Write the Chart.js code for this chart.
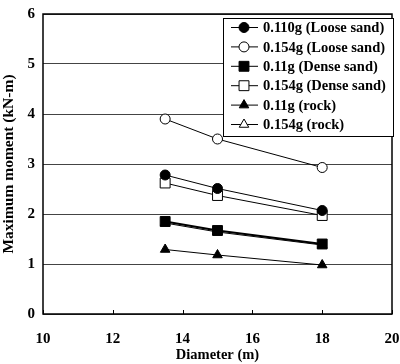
<!DOCTYPE html>
<html>
<head>
<meta charset="utf-8">
<script src="https://cdn.jsdelivr.net/npm/chart.js@4.4.1/dist/chart.umd.min.js"></script>
<style>
  html, body { margin: 0; padding: 0; background: #fff; }
  #wrap { width: 400px; height: 364px; }
</style>
</head>
<body>
<div id="wrap"><canvas id="chart" width="400" height="364"></canvas></div>
<script>
// values
var diameters = [13.5, 15, 18];
var loose110 = [2.78, 2.51, 2.07];
var loose154 = [3.90, 3.50, 2.93];
var dense110 = [1.85, 1.67, 1.40];
var dense154 = [2.62, 2.37, 1.97];
var rock110  = [1.29, 1.18, 0.98];
var rock154  = [1.82, 1.64, 1.38];
var seriesLabels = ['0.110g (Loose sand)', '0.154g (Loose sand)', '0.11g (Dense sand)',
                    '0.154g (Dense sand)', '0.11g (rock)', '0.154g (rock)'];
var xTicks = [10, 12, 14, 16, 18, 20];
var yTicks = [0, 1, 2, 3, 4, 5, 6];

function pts(ys) {
  return ys.map(function (v, i) { return { x: diameters[i], y: v }; });
}

var serif = '"Liberation Serif", "Times New Roman", serif';

function ds(label, ys, style, filled, radius, width) {
  return {
    label: label,
    data: pts(ys),
    showLine: true,
    borderColor: '#000',
    borderWidth: width,
    pointStyle: style,
    pointRadius: radius,
    pointHoverRadius: radius,
    pointBorderWidth: 1,
    pointBorderColor: '#000',
    pointBackgroundColor: filled ? '#000' : '#fff',
    fill: false
  };
}

// box legend drawn inside the plot
var boxLegend = {
  id: 'boxLegend',
  afterDraw: function (chart) {
    var c = chart.ctx;
    var x0 = 223, y0 = 18, w = 170, h = 118;
    c.save();
    c.fillStyle = '#fff';
    c.fillRect(x0, y0, w, h);
    c.strokeStyle = '#000';
    c.lineWidth = 1;
    c.strokeRect(x0 + 0.5, y0 + 0.5, w, h);
    c.font = 'bold 14.5px ' + serif;
    c.textBaseline = 'middle';
    c.textAlign = 'left';
    chart.data.datasets.forEach(function (d, i) {
      var y = 27.5 + i * 19.4;
      c.strokeStyle = '#000';
      c.lineWidth = 1;
      c.beginPath();
      c.moveTo(231, y);
      c.lineTo(258, y);
      c.stroke();
      drawMarker(c, 244, y, d.pointStyle, d.pointRadius, d.pointBackgroundColor);
      c.fillStyle = '#000';
      c.fillText(d.label, 263, y + 1);
    });
    c.restore();
  }
};

function drawMarker(c, x, y, style, r, fillColor) {
  c.beginPath();
  if (style === 'circle') {
    c.arc(x, y, r, 0, Math.PI * 2);
  } else if (style === 'rect') {
    var s = r * Math.SQRT1_2;
    c.rect(x - s, y - s, 2 * s, 2 * s);
  } else {
    var side = r * 3 / Math.sqrt(3), height = side * Math.sqrt(3) / 2;
    c.moveTo(x, y - 2 * height / 3);
    c.lineTo(x + side / 2, y + height / 3);
    c.lineTo(x - side / 2, y + height / 3);
    c.closePath();
  }
  c.fillStyle = fillColor;
  c.fill();
  c.strokeStyle = '#000';
  c.lineWidth = 1;
  c.stroke();
}

// frame and inward x ticks
var frame = {
  id: 'frame',
  afterDatasetsDraw: function (chart) {
    var a = chart.chartArea, c = chart.ctx, xs = chart.scales.x;
    c.save();
    c.strokeStyle = '#000';
    c.lineWidth = 1.5;
    c.strokeRect(a.left, a.top, a.right - a.left, a.bottom - a.top);
    c.lineWidth = 1;
    xTicks.forEach(function (t) {
      var px = Math.round(xs.getPixelForValue(t)) + 0.5;
      c.beginPath();
      c.moveTo(px, a.bottom);
      c.lineTo(px, a.bottom - 4);
      c.stroke();
    });
    c.restore();
  }
};

new Chart(document.getElementById('chart').getContext('2d'), {
  type: 'scatter',
  data: {
    datasets: [
      ds(seriesLabels[0], loose110, 'circle', true, 5, 1),
      ds(seriesLabels[1], loose154, 'circle', false, 5, 1),
      ds(seriesLabels[2], dense110, 'rect', true, 7, 2),
      ds(seriesLabels[3], dense154, 'rect', false, 7, 1),
      ds(seriesLabels[4], rock110, 'triangle', true, 5.5, 1),
      ds(seriesLabels[5], rock154, 'triangle', false, 5.5, 1)
    ]
  },
  options: {
    responsive: false,
    animation: false,
    layout: { padding: { top: 14, right: 5, left: 0, bottom: 0 } },
    plugins: {
      legend: { display: false },
      tooltip: { enabled: false }
    },
    scales: {
      x: {
        type: 'linear',
        min: 10, max: 20,
        afterBuildTicks: function (s) { s.ticks = xTicks.map(function (v) { return { value: v }; }); },
        afterFit: function (s) { s.height = 50; s.paddingLeft = 0; s.paddingRight = 0; },
        grid: { display: false },
        border: { display: false },
        ticks: { color: '#000', font: { family: serif, size: 15, weight: 'bold' }, padding: 8 },
        title: { display: true, text: 'Diameter (m)', color: '#000', padding: { top: 2, bottom: 0 },
                 font: { family: serif, size: 14.5, weight: 'bold' } }
      },
      y: {
        min: 0, max: 6,
        afterBuildTicks: function (s) { s.ticks = yTicks.map(function (v) { return { value: v }; }); },
        afterFit: function (s) { s.width = 43; s.paddingTop = 0; s.paddingBottom = 0; },
        grid: { color: '#444', lineWidth: 1, drawTicks: false },
        border: { display: false },
        ticks: { color: '#000', font: { family: serif, size: 15, weight: 'bold' }, padding: 8 },
        title: { display: true, text: 'Maximum moment (kN-m)', color: '#000', padding: { top: 0, bottom: 0 },
                 font: { family: serif, size: 15.5, weight: 'bold' } }
      }
    }
  },
  plugins: [frame, boxLegend]
});
</script>
</body>
</html>
